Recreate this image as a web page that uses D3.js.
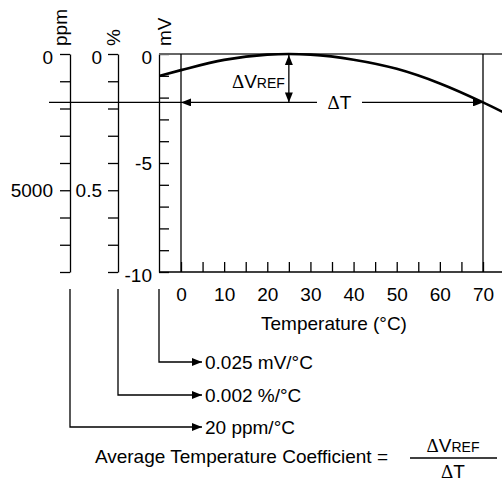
<!DOCTYPE html>
<html>
<head>
<meta charset="utf-8">
<script src="https://cdn.jsdelivr.net/npm/d3@7"></script>
<style>
  body { margin: 0; background: #fff; }
  svg { display: block; font-family: "Liberation Sans", Arial, sans-serif; }
  text { fill: #000; }
  .delta { font-family: "Liberation Serif", "Times New Roman", serif; }
</style>
</head>
<body>
<script>
"use strict";

// values
var curveTemp = [-5, 0, 10, 20, 25, 30, 40, 50, 60, 70, 75];
var curveMv = [-1.0, -0.74, -0.27, -0.03, 0, -0.03, -0.26, -0.68, -1.35, -2.22, -2.7];
var tempTicks = [0, 5, 10, 15, 20, 25, 30, 35, 40, 45, 50, 55, 60, 65, 70];
var tempLabels = [0, 10, 20, 30, 40, 50, 60, 70];
var mvTicks = [0, -1, -2, -3, -4, -5, -6, -7, -8, -9, -10];
var mvLabels = [0, -5, -10];
var pctTicks = [0, 0.1, 0.2, 0.3, 0.4, 0.5, 0.6, 0.7, 0.8];
var pctLabels = [0, 0.5];
var ppmTicks = [0, 1000, 2000, 3000, 4000, 5000, 6000, 7000, 8000];
var ppmLabels = [0, 5000];
var refTemp = 25;      // peak of the curve
var endTemp = 70;      // end of the range
var refDrop = -2.22;   // mV at 70 °C
var coeffLabels = ["0.025 mV/°C", "0.002 %/°C", "20 ppm/°C"];

function draw_chart() {
    var width = 502;
    var height = 482;
    var fs = 19;
    var fsSub = 14;
    var svg = d3.select("body")
        .append("svg")
        .attr("width", width)
        .attr("height", height);

    var defs = svg.append("defs");
    defs.append("marker")
        .attr("id", "arr")
        .attr("viewBox", "0 0 10 8")
        .attr("refX", 10).attr("refY", 4)
        .attr("markerWidth", 10).attr("markerHeight", 8)
        .attr("markerUnits", "userSpaceOnUse")
        .attr("orient", "auto-start-reverse")
        .append("path")
        .attr("d", "M0,0L10,4L0,8Z")
        .attr("fill", "#000");
    defs.append("clipPath").attr("id", "plotclip")
        .append("rect").attr("x", 159).attr("y", 40).attr("width", 360).attr("height", 240);

    var x = d3.scaleLinear().domain([0, 70]).range([181, 483]);
    var yMv = d3.scaleLinear().domain([0, -10]).range([54, 272]);
    var yPct = d3.scaleLinear().domain([0, 0.8]).range([54, 272]);
    var yPpm = d3.scaleLinear().domain([0, 8000]).range([54, 272]);

    var xPpm = 70, xPct = 118, xMv = 159;

    // ppm axis
    var gPpm = svg.append("g")
        .attr("transform", "translate(" + xPpm + ",0)")
        .call(d3.axisLeft(yPpm)
            .tickValues(ppmTicks)
            .tickSize(10).tickSizeOuter(0).tickPadding(7)
            .tickFormat(function(d) { return ppmLabels.indexOf(d) >= 0 ? d : ""; }));
    // % axis
    var gPct = svg.append("g")
        .attr("transform", "translate(" + xPct + ",0)")
        .call(d3.axisLeft(yPct)
            .tickValues(pctTicks)
            .tickSize(10).tickSizeOuter(0).tickPadding(6)
            .tickFormat(function(d) { return pctLabels.indexOf(d) >= 0 ? d : ""; }));
    // mV axis, ticks point into the plot
    var gMv = svg.append("g")
        .attr("transform", "translate(" + xMv + ",0)")
        .call(d3.axisLeft(yMv)
            .tickValues(mvTicks)
            .tickSize(-10).tickSizeOuter(0).tickPadding(7)
            .tickFormat(function(d) { return mvLabels.indexOf(d) >= 0 ? d : ""; }));

    [gPpm, gPct, gMv].forEach(function(g) {
        g.attr("font-size", fs).attr("font-family", null);
        g.selectAll("path, line").attr("stroke", "#000").attr("stroke-width", 1.3);
        g.selectAll("text").attr("fill", "#000");
        g.selectAll(".tick text").filter(function(d) { return d === 0; }).attr("dy", "0.5em");
    });
    gMv.selectAll(".tick text").filter(function(d) { return d === -10; }).attr("dy", "0.5em");

    // unit labels (rotated, reading upward)
    var units = [["ppm", 67], ["%", 120], ["mV", 171]];
    svg.selectAll("text.unit")
        .data(units)
        .enter()
        .append("text")
        .attr("class", "unit")
        .attr("font-size", fs)
        .attr("text-anchor", "start")
        .attr("transform", function(d) { return "translate(" + d[1] + ",46)rotate(-90)"; })
        .text(function(d) { return d[0]; });

    // x axis (ticks upward)
    var gx = svg.append("g")
        .attr("transform", "translate(0,272)")
        .call(d3.axisBottom(x)
            .tickValues(tempTicks)
            .tickSize(-10).tickSizeOuter(0).tickPadding(16)
            .tickFormat(function(d) { return tempLabels.indexOf(d) >= 0 ? d : ""; }));
    gx.attr("font-size", fs).attr("font-family", null);
    gx.select(".domain").remove();
    gx.selectAll("line").attr("stroke", "#000").attr("stroke-width", 1.3);
    gx.selectAll("text").attr("fill", "#000");
    svg.append("line")
        .attr("x1", xMv).attr("x2", width)
        .attr("y1", 272).attr("y2", 272)
        .attr("stroke", "#000").attr("stroke-width", 1.3);

    svg.append("text")
        .attr("x", (x(0) + x(70)) / 2 + 2)
        .attr("y", 330)
        .attr("font-size", fs)
        .attr("text-anchor", "middle")
        .text("Temperature (°C)");

    // top border (gray) and vertical lines at 0 and 70 °C
    svg.append("line")
        .attr("x1", xMv).attr("x2", width)
        .attr("y1", yMv(0)).attr("y2", yMv(0))
        .attr("stroke", "#666").attr("stroke-width", 2);
    svg.selectAll("line.vt")
        .data([0, endTemp])
        .enter()
        .append("line")
        .attr("class", "vt")
        .attr("x1", function(d) { return x(d); })
        .attr("x2", function(d) { return x(d); })
        .attr("y1", yMv(0)).attr("y2", yMv(-10))
        .attr("stroke", "#000").attr("stroke-width", 1.3);

    // the curve
    var pts = curveTemp.map(function(t, i) { return [t, curveMv[i]]; });
    var line = d3.line()
        .curve(d3.curveMonotoneX)
        .x(function(d) { return x(d[0]); })
        .y(function(d) { return yMv(d[1]); });
    svg.append("path")
        .attr("clip-path", "url(#plotclip)")
        .attr("d", line(pts))
        .attr("fill", "none")
        .attr("stroke", "#000")
        .attr("stroke-width", 2.6);

    // reference level line across the axes
    var yRef = yMv(refDrop);
    svg.append("line")
        .attr("x1", 49).attr("x2", x(0))
        .attr("y1", yRef).attr("y2", yRef)
        .attr("stroke", "#000").attr("stroke-width", 1.3);

    // delta T arrows
    var gapL = 317, gapR = 362;
    svg.append("line")
        .attr("x1", gapL).attr("x2", x(0))
        .attr("y1", yRef).attr("y2", yRef)
        .attr("stroke", "#000").attr("stroke-width", 1.3)
        .attr("marker-end", "url(#arr)");
    svg.append("line")
        .attr("x1", gapR).attr("x2", x(endTemp))
        .attr("y1", yRef).attr("y2", yRef)
        .attr("stroke", "#000").attr("stroke-width", 1.3)
        .attr("marker-end", "url(#arr)");
    var dt = svg.append("text")
        .attr("x", (gapL + gapR) / 2)
        .attr("y", yRef + 7)
        .attr("font-size", fs)
        .attr("text-anchor", "middle");
    dt.append("tspan").attr("class", "delta").text("Δ");
    dt.append("tspan").text("T");

    // delta Vref arrow
    svg.append("line")
        .attr("x1", x(refTemp)).attr("x2", x(refTemp))
        .attr("y1", yMv(0) + 1).attr("y2", yRef)
        .attr("stroke", "#000").attr("stroke-width", 1.3)
        .attr("marker-start", "url(#arr)")
        .attr("marker-end", "url(#arr)");
    var dv = svg.append("text")
        .attr("x", x(refTemp) - 4)
        .attr("y", 88)
        .attr("font-size", fs)
        .attr("text-anchor", "end");
    dv.append("tspan").attr("class", "delta").text("Δ");
    dv.append("tspan").text("V");
    dv.append("tspan").attr("font-size", fsSub).text("REF");

    // connectors from each axis down to the coefficients
    var rows = [
        { x0: xMv, y: 362, label: coeffLabels[0] },
        { x0: xPct, y: 395, label: coeffLabels[1] },
        { x0: xPpm, y: 427, label: coeffLabels[2] }
    ];
    svg.selectAll("path.conn")
        .data(rows)
        .enter()
        .append("path")
        .attr("class", "conn")
        .attr("d", function(d) { return "M" + d.x0 + ",289V" + d.y + "H202"; })
        .attr("fill", "none")
        .attr("stroke", "#000").attr("stroke-width", 1.3)
        .attr("marker-end", "url(#arr)");
    svg.selectAll("text.coef")
        .data(rows)
        .enter()
        .append("text")
        .attr("class", "coef")
        .attr("x", 205)
        .attr("y", function(d) { return d.y + 7; })
        .attr("font-size", fs)
        .text(function(d) { return d.label; });

    // formula
    svg.append("text")
        .attr("x", 388)
        .attr("y", 463)
        .attr("font-size", fs)
        .attr("text-anchor", "end")
        .text("Average Temperature Coefficient =");
    var num = svg.append("text")
        .attr("x", 453)
        .attr("y", 452)
        .attr("font-size", fs)
        .attr("text-anchor", "middle");
    num.append("tspan").attr("class", "delta").text("Δ");
    num.append("tspan").text("V");
    num.append("tspan").attr("font-size", fsSub).text("REF");
    svg.append("line")
        .attr("x1", 410).attr("x2", 497)
        .attr("y1", 458).attr("y2", 458)
        .attr("stroke", "#000").attr("stroke-width", 1.3);
    var den = svg.append("text")
        .attr("x", 453)
        .attr("y", 478)
        .attr("font-size", fs)
        .attr("text-anchor", "middle");
    den.append("tspan").attr("class", "delta").text("Δ");
    den.append("tspan").text("T");
}

// run
draw_chart();
</script>
</body>
</html>
